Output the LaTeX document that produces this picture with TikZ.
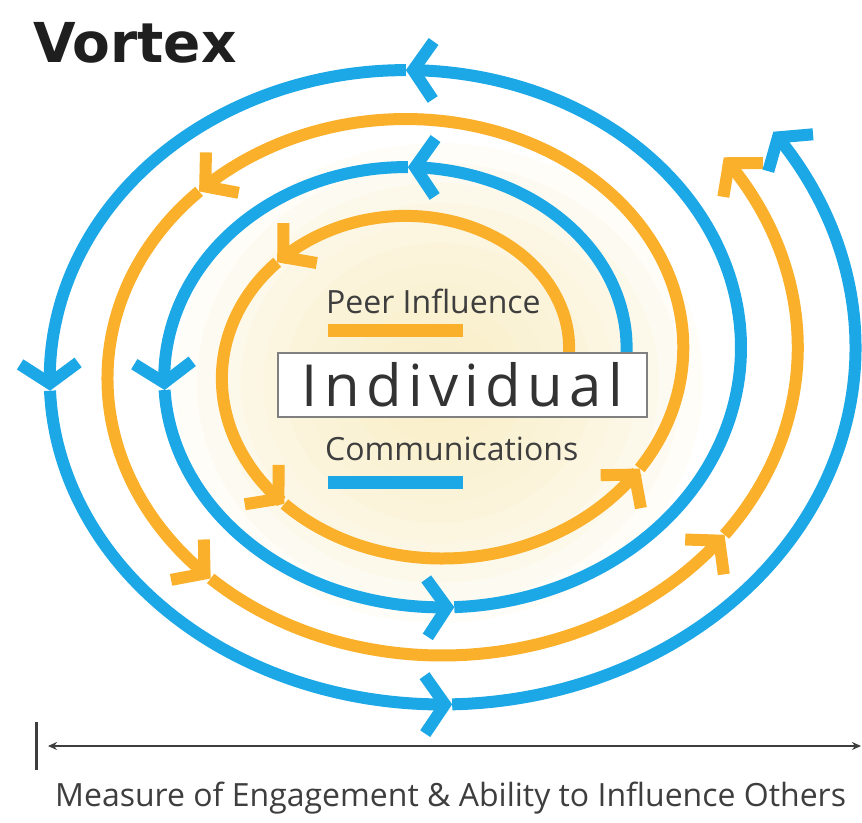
\documentclass[tikz,border=0pt]{standalone}
\usepackage{fontspec}
\setmainfont{Lato}
\newfontfamily\titlefont{DejaVu Sans}
\newfontfamily\keyfont{Open Sans}
\newfontfamily\boxfont[LetterSpace=11]{Open Sans}
\usetikzlibrary{arrows.meta}
\definecolor{peer}{RGB}{250,176,42}
\definecolor{comm}{RGB}{28,168,230}
\definecolor{glow}{RGB}{247,232,180}
\definecolor{ink}{RGB}{62,62,62}

% one piece of a spiral arm: #2 = start radius, #3:#4 = angle range, tip at #4
\newcommand{\arm}[4]{\draw[#1] plot[domain=#3:#4, samples=60] ({1.18*(#2+0.27*\x)*cos(\x)}, {(#2+0.27*\x)*sin(\x)});}

\begin{document}
\begin{tikzpicture}[x=1pt, y=1pt, smooth,
  peerline/.style={peer, line width=12pt, -{Straight Barb[length=22pt, width=52pt]}},
  commline/.style={comm, line width=12pt, -{Straight Barb[length=20pt, width=58pt]}},
  keytext/.style={anchor=base west, inner sep=0pt, text=ink}]
\useasboundingbox (-424,-459) rectangle (438,363);
% soft glow behind the centre
\foreach \s in {1,...,12}
  \fill[glow, opacity=0.1] (15,-20) ellipse ({22*\s} and {20*\s});

% orange arm, inside out
\arm{peerline}{122}{0}{141}
\arm{peerline}{122}{141}{230}
\arm{peerline}{122}{230}{330}
\arm{peerline}{122}{330}{498}
\arm{peerline}{122}{498}{590}
\arm{peerline}{122}{590}{686}
\arm{peerline}{122}{686}{759}

% blue arm, half a turn further out
\arm{commline}{171}{0}{94}
\arm{commline}{171}{94}{187}
\arm{commline}{171}{187}{276}
\arm{commline}{171}{276}{453}
\arm{commline}{171}{453}{545}
\arm{commline}{171}{545}{634}
\arm{commline}{171}{634}{758}

\node[keytext, text=black!88, font=\titlefont\bfseries\fontsize{55}{57}\selectfont] (title) at (-391,300) {Vortex};

\node[draw=gray, line width=1.5pt, fill=white, minimum width=369pt, minimum height=64pt, inner sep=0pt,
  text=black!80, font=\boxfont\fontsize{58}{60}\selectfont] (indiv) at (38.5,-22) {Individual};

\node[keytext, font=\keyfont\fontsize{32}{34}\selectfont] (peerkey) at (-98,50) {Peer Influence};
\draw[peer, line width=13pt] ([xshift=2pt, yshift=-17pt]peerkey.base west) -- ++(135,0);
\node[keytext, font=\keyfont\fontsize{32}{34}\selectfont] (commkey) at (-99,-97) {Communications};
\draw[comm, line width=13pt] ([xshift=3pt, yshift=-22pt]commkey.base west) -- ++(135,0);

% scale along the bottom
\coordinate (axl) at (-376,-383);
\coordinate (axr) at (437,-383);
\draw[ink, line width=2.5pt, {Stealth[length=9pt, width=8pt]}-{Stealth[length=9pt, width=8pt]}] (axl) -- (axr);
\draw[ink, line width=3pt] (-387,-359) -- (-387,-407);
\node[keytext, font=\keyfont\fontsize{32}{34}\selectfont] (scale) at (-369,-443) {Measure of Engagement \& Ability to Influence Others};
\end{tikzpicture}
\end{document}
